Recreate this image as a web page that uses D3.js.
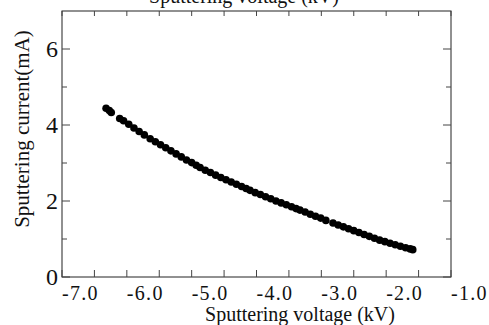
<!DOCTYPE html>
<html>
<head>
<meta charset="utf-8">
<script src="https://cdn.jsdelivr.net/npm/d3@7"></script>
<style>
  body { margin: 0; background: #fff; }
  svg { display: block; }
</style>
</head>
<body>
<svg id="chart" width="489" height="325"></svg>
<script>
// sputtering voltage (kV) and current (mA)
const voltage = [-6.32, -6.27, -6.24, -6.11, -6.05, -5.97, -5.89, -5.81, -5.73, -5.64,
  -5.56, -5.48, -5.40, -5.32, -5.24, -5.16, -5.08, -5.00, -4.93, -4.87,
  -4.79, -4.71, -4.63, -4.55, -4.47, -4.39, -4.31, -4.23, -4.16, -4.10,
  -4.02, -3.94, -3.86, -3.78, -3.70, -3.62, -3.54, -3.46, -3.39, -3.33,
  -3.25, -3.17, -3.09, -3.01, -2.93, -2.82, -2.74, -2.66, -2.58, -2.50,
  -2.42, -2.34, -2.26, -2.18, -2.10, -2.02, -1.94, -1.86, -1.78, -1.70,
  -1.63, -1.59];
const current = [4.44, 4.38, 4.33, 4.17, 4.11, 4.02, 3.92, 3.83, 3.74, 3.64,
  3.56, 3.48, 3.40, 3.32, 3.24, 3.16, 3.08, 3.01, 2.94, 2.88,
  2.81, 2.75, 2.68, 2.62, 2.56, 2.50, 2.44, 2.38, 2.33, 2.28,
  2.22, 2.17, 2.11, 2.06, 2.00, 1.95, 1.90, 1.85, 1.80, 1.76,
  1.71, 1.65, 1.60, 1.55, 1.49, 1.42, 1.37, 1.32, 1.27, 1.22,
  1.17, 1.12, 1.07, 1.02, 0.97, 0.93, 0.89, 0.85, 0.81, 0.77,
  0.74, 0.72];
const xTicks = [-7.0, -6.0, -5.0, -4.0, -3.0, -2.0, -1.0];
const xMinor = [-6.5, -5.5, -4.5, -3.5, -2.5, -1.5];
const yTicks = [0, 2, 4, 6];
const yMinor = [1, 3, 5];

const serif = 'Liberation Serif';

const svg = d3.select('#chart');
const margin = { left: 62, right: 38, top: 11, bottom: 48 };
const width = 489 - margin.left - margin.right;
const height = 325 - margin.top - margin.bottom;

const x = d3.scaleLinear().domain([-7, -1]).range([0, width]);
const y = d3.scaleLinear().domain([0, 7]).range([height, 0]);

const g = svg.append('g').attr('transform', `translate(${margin.left},${margin.top})`);

// frame
g.append('rect')
  .attr('width', width).attr('height', height)
  .attr('fill', 'none').attr('stroke', '#222').attr('stroke-width', 1);

// ticks point inward, on all four sides
const tickCol = '#444';
g.selectAll('.xt-b').data(xTicks.concat(xMinor)).enter().append('line')
  .attr('x1', d => x(d)).attr('x2', d => x(d))
  .attr('y1', height).attr('y2', height - 7)
  .attr('stroke', tickCol);
g.selectAll('.xt-t').data(xTicks.concat(xMinor)).enter().append('line')
  .attr('x1', d => x(d)).attr('x2', d => x(d))
  .attr('y1', 0).attr('y2', 5)
  .attr('stroke', tickCol);
[0, width].forEach((side, i) => {
  const dir = i === 0 ? 1 : -1;
  g.selectAll(null).data(yTicks).enter().append('line')
    .attr('x1', side).attr('x2', side + dir * 8)
    .attr('y1', d => y(d)).attr('y2', d => y(d))
    .attr('stroke', tickCol);
  g.selectAll(null).data(yMinor).enter().append('line')
    .attr('x1', side).attr('x2', side + dir * 5)
    .attr('y1', d => y(d)).attr('y2', d => y(d))
    .attr('stroke', tickCol);
});

// tick labels (left-aligned on their ticks, as in the original)
g.selectAll('.xl').data(xTicks).enter().append('text')
  .attr('x', d => x(d)).attr('y', height + 23)
  .attr('text-anchor', 'start')
  .attr('font-family', serif).attr('font-size', 20)
  .attr('letter-spacing', 1.3).attr('fill', '#111')
  .text(d => d.toFixed(1));
g.selectAll('.yl').data(yTicks).enter().append('text')
  .attr('x', -4).attr('y', d => y(d) + 8)
  .attr('text-anchor', 'end')
  .attr('font-family', serif).attr('font-size', 24).attr('fill', '#111')
  .text(d => d);

// points
g.selectAll('circle').data(voltage).enter().append('circle')
  .attr('cx', d => x(d))
  .attr('cy', (d, i) => y(current[i]))
  .attr('r', 3.8)
  .attr('fill', '#000');

// axis titles
svg.append('text')
  .attr('x', 300).attr('y', 321)
  .attr('text-anchor', 'middle')
  .attr('font-family', serif).attr('font-size', 20).attr('fill', '#111')
  .text('Sputtering voltage (kV)');
svg.append('text')
  .attr('x', 244).attr('y', 3)
  .attr('text-anchor', 'middle')
  .attr('font-family', serif).attr('font-size', 20).attr('fill', '#111')
  .text('Sputtering voltage (kV)');
svg.append('text')
  .attr('transform', 'translate(29,129) rotate(-90)')
  .attr('text-anchor', 'middle')
  .attr('font-family', serif).attr('font-size', 21).attr('fill', '#111')
  .text('Sputtering current(mA)');
</script>
</body>
</html>
